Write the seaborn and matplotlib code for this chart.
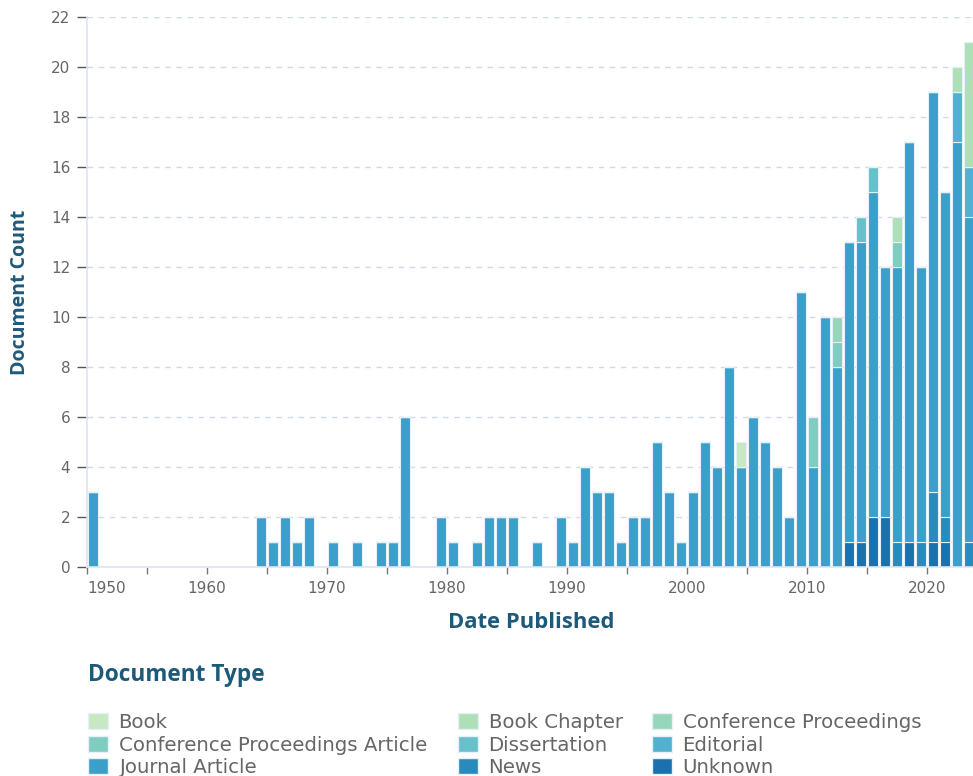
import numpy as np
import pandas as pd
import matplotlib.pyplot as plt
import seaborn as sns
from matplotlib.patches import Patch

# ---- data ----
years = list(range(1950, 2024))
journal_counts = [
    3, 0, 0, 0, 0, 0, 0, 0, 0, 0,        # 1950s
    0, 0, 0, 0, 2, 1, 2, 1, 2, 0,        # 1960s
    1, 0, 1, 0, 1, 1, 6, 0, 0, 2,        # 1970s
    1, 0, 1, 2, 2, 2, 0, 1, 0, 2,        # 1980s
    1, 4, 3, 3, 1, 2, 2, 5, 3, 1,        # 1990s
    3, 5, 4, 8, 4, 6, 5, 4, 2, 11,       # 2000s
    4, 10, 8, 12, 12, 13, 10, 11, 16, 11,  # 2010s
    16, 13, 17, 13,                      # 2020s
]
book_years, book_counts = [2004], [1]
chapter_years, chapter_counts = [2017, 2022, 2023], [1, 1, 5]
conf_years, conf_counts = [2012], [1]
conf_art_years, conf_art_counts = [2010, 2012, 2017], [2, 1, 1]
diss_years, diss_counts = [2014, 2015], [1, 1]
edit_years, edit_counts = [2022, 2023], [2, 2]
news_years, news_counts = [2017, 2019, 2020, 2021, 2023], [1, 1, 2, 1, 1]
unknown_years, unknown_counts = [2013, 2014, 2015, 2016, 2018, 2020, 2021], [1, 1, 2, 2, 1, 1, 1]

doc_types = ["Book", "Book Chapter", "Conference Proceedings",
             "Conference Proceedings Article", "Dissertation", "Editorial",
             "Journal Article", "News", "Unknown"]
colors = ["#c6e8c2", "#afdfb6", "#97d6bb", "#7fccc1", "#67c0ca",
          "#52b0d0", "#3c9fca", "#2a8abe", "#1a71ad"]

parts = [
    ("Book", book_years, book_counts),
    ("Book Chapter", chapter_years, chapter_counts),
    ("Conference Proceedings", conf_years, conf_counts),
    ("Conference Proceedings Article", conf_art_years, conf_art_counts),
    ("Dissertation", diss_years, diss_counts),
    ("Editorial", edit_years, edit_counts),
    ("Journal Article", years, journal_counts),
    ("News", news_years, news_counts),
    ("Unknown", unknown_years, unknown_counts),
]
df = pd.concat([pd.DataFrame({"year": y, "count": c, "type": t}) for t, y, c in parts],
               ignore_index=True)
df = df[df["count"] > 0].reset_index(drop=True)
df["x"] = df["year"] + 0.5

sns.set_style("white")
plt.rcParams["font.family"] = ["Open Sans", "DejaVu Sans"]

fig = plt.figure(figsize=(9.73, 7.76), dpi=100)
ax = fig.add_axes([87 / 973, 1 - 567 / 776, (973 - 87) / 973, 550 / 776])

sns.histplot(data=df, x="x", weights="count", hue="type", hue_order=doc_types,
             palette=colors, multiple="stack", binwidth=1, binrange=(1950, 2024),
             shrink=0.84, alpha=1, edgecolor="#e6f0f7", linewidth=0.8,
             legend=False, ax=ax)

ax.set_xlim(1950, 2023.85)
ax.set_ylim(0, 22)
ax.set_yticks(range(0, 23, 2))
xt = np.arange(1950, 2024, 5)
ax.set_xticks(xt)
ax.set_xticklabels([str(v) if v % 10 == 0 else "" for v in xt])
ax.get_xticklabels()[0].set_ha("left")
for lab in ax.get_xticklabels() + ax.get_yticklabels():
    lab.set_family("DejaVu Sans")

ax.yaxis.grid(True, linestyle=(0, (4, 4)), color="#cfd9ec", linewidth=1)
ax.xaxis.grid(False)
ax.set_axisbelow(True)
for s in ["top", "right"]:
    ax.spines[s].set_visible(False)
for s in ["left", "bottom"]:
    ax.spines[s].set_color("#dde5f1")
    ax.spines[s].set_linewidth(1.2)
ax.tick_params(axis="y", length=7, width=1, color="#555555", labelcolor="#666666",
               labelsize=11, pad=5, left=True)
ax.tick_params(axis="x", length=5, width=1, color="#777777", labelcolor="#666666",
               labelsize=11, pad=5, bottom=True)
ax.set_xlabel("")
ax.set_ylabel("")

title_color = "#1d5a7a"
fig.text(20 / 973, 1 - 292 / 776, "Document Count", rotation=90, ha="center",
         va="center", fontsize=14, fontweight="bold", color=title_color)
fig.text(531 / 973, 1 - 622 / 776, "Date Published", ha="center", va="center",
         fontsize=15.8, fontweight="bold", color=title_color)
fig.text(88 / 973, 1 - 675 / 776, "Document Type", ha="left", va="center",
         fontsize=16.3, fontweight="bold", color=title_color)

# legend: three columns placed where the original puts them, filled row by row
col_x = [88, 458, 652]
for c, x0 in enumerate(col_x):
    idx = [c, c + 3, c + 6]
    handles = [Patch(facecolor=colors[i], edgecolor="#e6f0f7", label=doc_types[i]) for i in idx]
    fig.legend(handles=handles, ncol=1, loc="upper left",
               bbox_to_anchor=(x0 / 973, 1 - 713 / 776), frameon=False,
               prop={"family": "DejaVu Sans", "size": 14.2}, labelcolor="#666666",
               handlelength=1.0, handleheight=0.9, handletextpad=0.55,
               labelspacing=0.18, borderpad=0, borderaxespad=0)

fig.savefig("out.png", dpi=100)
